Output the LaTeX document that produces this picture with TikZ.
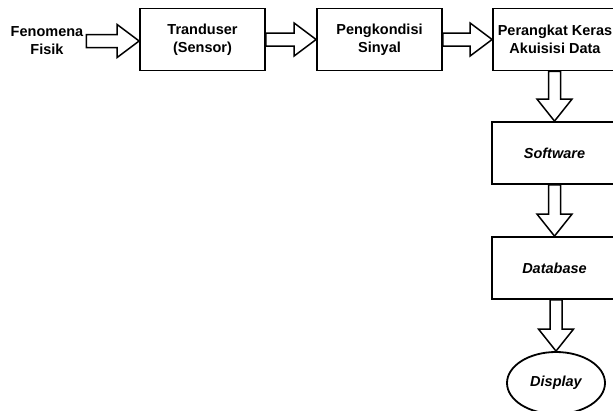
\documentclass[tikz,border=0pt]{standalone}
\usepackage{fontspec}
\setmainfont{Liberation Sans}
\usetikzlibrary{calc,shapes.geometric}
\begin{document}
\begin{tikzpicture}[x=1pt,y=-1pt,
  lbl/.style={font=\fontsize{14.5}{18}\selectfont\bfseries, align=center, inner sep=0pt},
  boxnode/.style={lbl, draw, line width=1.8pt, minimum height=62pt, anchor=center},
  ital/.style={font=\fontsize{14.5}{18}\selectfont\bfseries\itshape},
  fat/.style={draw, line width=1.5pt, fill=white, line join=miter}
]
\useasboundingbox (0,0) rectangle (613,410);
\clip (0,0) rectangle (613,410);
\fill[white] (0,0) rectangle (613,410);

\node[lbl] (fen) at (47,41) {Fenomena\\Fisik};
\node[boxnode, minimum width=125pt] (t1) at (202.5,39.5) {Tranduser\\(Sensor)};
\node[boxnode, minimum width=125pt] (t2) at (379.5,39.5) {Pengkondisi\\Sinyal};
\node[boxnode, minimum width=124pt] (t3) at (555,39.5) {Perangkat Keras\\Akuisisi Data};
\node[boxnode, ital, minimum width=125pt] (sw) at (554.5,153) {Software};
\node[boxnode, ital, minimum width=125pt] (db) at (554.5,268) {Database};
\node[lbl, ital, draw, ellipse, line width=1.8pt, minimum width=98pt, minimum height=62pt] (disp) at (556,383) {Display};

% horizontal fat arrows
\draw[fat] let \p1=($(fen.east)+(3,0)$), \p2=(t1.west) in
  (\x1,\y1+6.5) -- (\x2-22,\y1+6.5) -- (\x2-22,\y1+16.5) -- (\x2,\y1)
  -- (\x2-22,\y1-16.5) -- (\x2-22,\y1-6.5) -- (\x1,\y1-6.5) -- cycle;
\draw[fat] let \p1=(t1.east), \p2=(t2.west) in
  (\x1,\y1+6.5) -- (\x2-22,\y1+6.5) -- (\x2-22,\y1+16.5) -- (\x2,\y1)
  -- (\x2-22,\y1-16.5) -- (\x2-22,\y1-6.5) -- (\x1,\y1-6.5) -- cycle;
\draw[fat] let \p1=(t2.east), \p2=(t3.west) in
  (\x1,\y1+6.5) -- (\x2-22,\y1+6.5) -- (\x2-22,\y1+16.5) -- (\x2,\y1)
  -- (\x2-22,\y1-16.5) -- (\x2-22,\y1-6.5) -- (\x1,\y1-6.5) -- cycle;

% vertical fat arrows
\draw[fat] let \p1=(t3.south), \p2=(sw.north) in
  (\x2-6,\y1) -- (\x2-6,\y2+22) -- (\x2-17.5,\y2+22) -- (\x2,\y2)
  -- (\x2+17.5,\y2+22) -- (\x2+6,\y2+22) -- (\x2+6,\y1) -- cycle;
\draw[fat] let \p1=(sw.south), \p2=(db.north) in
  (\x2-6,\y1) -- (\x2-6,\y2+22) -- (\x2-17.5,\y2+22) -- (\x2,\y2)
  -- (\x2+17.5,\y2+22) -- (\x2+6,\y2+22) -- (\x2+6,\y1) -- cycle;
\draw[fat] let \p1=(db.south), \p2=(disp.north) in
  (\x2-6,\y1) -- (\x2-6,\y2+22) -- (\x2-17.5,\y2+22) -- (\x2,\y2)
  -- (\x2+17.5,\y2+22) -- (\x2+6,\y2+22) -- (\x2+6,\y1) -- cycle;
\end{tikzpicture}
\end{document}
